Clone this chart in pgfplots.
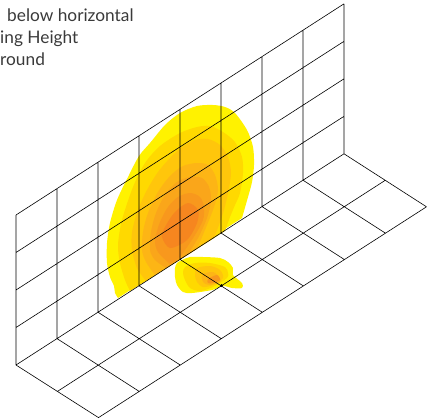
\documentclass[border=0pt]{standalone}
\usepackage{pgfplots}
\pgfplotsset{compat=1.18}
\usepackage{fontspec}
\setmainfont{Lato}
\definecolor{lvA}{HTML}{FFF200}
\definecolor{lvB}{HTML}{FFD900}
\definecolor{lvC}{HTML}{FFC60B}
\definecolor{lvD}{HTML}{FDB515}
\definecolor{lvE}{HTML}{FAA61A}
\definecolor{lvF}{HTML}{F8981D}
\definecolor{lvG}{HTML}{F6861F}
\definecolor{txt}{HTML}{3A3A3A}
\begin{document}
\begin{tikzpicture}
\path[use as bounding box] (0,0) rectangle (427pt,418pt);
\begin{axis}[
  at={(0,0)}, anchor=south west,
  width=427pt, height=418pt, scale only axis,
  xmin=0, xmax=427, ymin=0, ymax=418,
  y dir=reverse,
  hide axis,
  clip=false,
  unbounded coords=jump,
]
% contours on the wall
\addplot[fill=lvA, draw=none, smooth] coordinates {
  (118,298) (115,293) (114,286) (110,277) (107,263) (107,243) (110,223) (117,200) (128,177)
  (139,156) (150,143) (165,125) (180,113) (197,106) (213,105) (225,107) (235,113) (247,130)
  (253,147) (254,165) (252,182) (248,197) (242,218)
};
\addplot[fill=lvB, draw=none, smooth] coordinates {
  (130,291) (125,280) (120,263) (118,245) (122,220) (133,187) (145,163) (160,146) (180,133)
  (197,127) (210,126) (223,132) (235,142) (242,157) (243,173) (240,193) (235,205) (230,217) (225,231)
};
\addplot[fill=lvC, draw=none, smooth] coordinates {
  (146,281) (137,268) (132,250) (132,232) (138,210) (147,190) (158,172) (170,158) (182,147)
  (195,140) (208,139) (220,145) (228,157) (231,173) (228,193) (224,210) (219,225) (214,238)
};
\addplot[fill=lvD, draw=none, smooth] coordinates {
  (155,275) (146,262) (142,250) (143,232) (148,213) (158,192) (170,176) (183,166) (197,163)
  (208,165) (215,175) (218,190) (214,207) (207,225) (197,249)
};
\addplot[fill=lvE, draw=none, smooth] coordinates {
  (166,268) (155,260) (150,250) (151,232) (156,213) (165,195) (177,182) (190,177) (202,178)
  (209,187) (211,200) (207,218) (198,238) (188,254)
};
\addplot[fill=lvF, draw=none, smooth] coordinates {
  (170,264) (158,252) (155,240) (160,222) (168,207) (178,197) (190,193) (200,197) (204,207)
  (203,220) (195,235) (185,250) (178,259)
};
\addplot[fill=lvG, draw=none, smooth cycle] coordinates {
  (170,248) (162,237) (165,227) (175,212) (188,203) (198,210) (197,223) (187,240)
};
% contours on the floor
\addplot[fill=lvA, draw=none, smooth cycle] coordinates {
  (182,260) (190,257) (203,257) (220,258) (228,262) (233,268) (233,275) (242,283) (242,288)
  (232,288) (223,286) (212,290) (192,293) (183,292) (177,285) (175,277) (175,268) (177,263)
};
\addplot[fill=lvB, draw=none, smooth cycle] coordinates {
  (185,267) (195,263) (210,263) (225,267) (228,273) (227,278) (213,287) (200,291) (190,288)
  (185,280) (183,273)
};
\addplot[fill=lvC, draw=none, smooth cycle] coordinates {
  (197,268) (210,266) (220,270) (223,278) (213,285) (203,287) (197,282) (195,275)
};
\addplot[fill=lvD, draw=none, smooth cycle] coordinates {
  (203,274) (213,272) (219,277) (220,282) (210,285) (204,283) (202,279)
};
\addplot[fill=lvF, draw=none, smooth cycle] coordinates {
  (208,279) (217,275) (220,280) (213,283) (208,283)
};
% grid
\addplot[black, line width=0.6pt] table {
x y
16 365
16 215
nan nan
57 338.6
57 188.6
nan nan
98 312.2
98 162.2
nan nan
139 285.8
139 135.8
nan nan
180 259.4
180 109.4
nan nan
221 233
221 83
nan nan
262 206.6
262 56.6
nan nan
303 180.2
303 30.2
nan nan
344 153.8
344 3.8
nan nan
16 365
344 153.8
nan nan
16 327.5
344 116.3
nan nan
16 290
344 78.8
nan nan
16 252.5
344 41.3
nan nan
16 215
344 3.8
nan nan
57.25 391.5
385.25 180.3
nan nan
98.5 417.6
426.5 206.8
nan nan
16 365
98.5 417.6
nan nan
57 338.6
139.5 391.6
nan nan
98 312.2
180.5 365.2
nan nan
139 285.8
221.5 338.8
nan nan
180 259.4
262.5 312.4
nan nan
221 233
303.5 286
nan nan
262 206.6
344.5 259.6
nan nan
303 180.2
385.5 233.2
nan nan
344 153.8
426.5 206.8
};
\addplot[only marks, mark=*, mark size=1.3pt, black] coordinates {(221.5,285.6)};
\node[anchor=base west, text=txt, font=\fontsize{17.3}{17.3}\selectfont, inner sep=0pt] at (axis cs:7,21) {below horizontal};
\node[anchor=base west, text=txt, font=\fontsize{17.3}{17.3}\selectfont, inner sep=0pt] at (axis cs:0,43) {ing Height};
\node[anchor=base west, text=txt, font=\fontsize{17.3}{17.3}\selectfont, inner sep=0pt] at (axis cs:0,65.5) {round};
\end{axis}
\end{tikzpicture}
\end{document}
